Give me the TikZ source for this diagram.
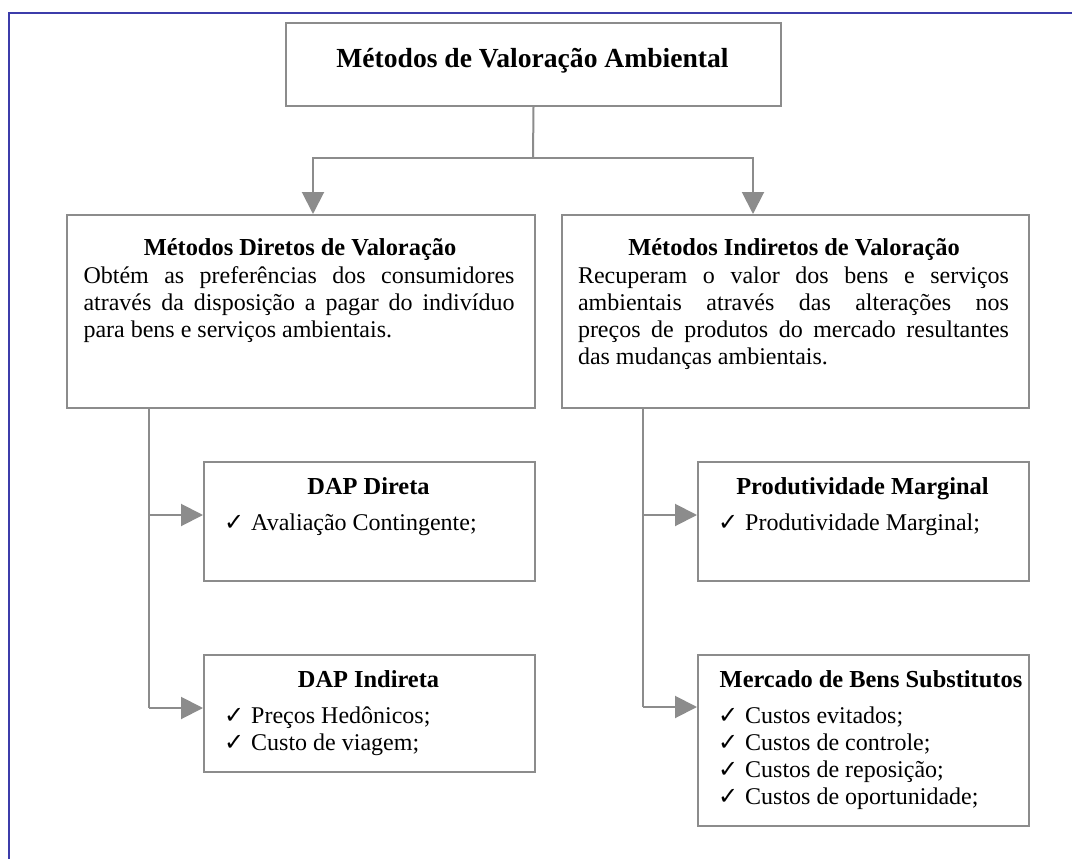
\documentclass[tikz,border=0pt]{standalone}
\usepackage{fontspec}
\setmainfont{Liberation Serif}
\newfontfamily\chkfont{DejaVu Sans}
\usetikzlibrary{arrows.meta}
\definecolor{frameblue}{HTML}{3C3CAA}
\definecolor{lg}{HTML}{8C8C8C}
\newcommand{\ck}{\makebox[27pt][l]{\chkfont\fontsize{24}{24}\selectfont ✓}}
\begin{document}
\begin{tikzpicture}[x=1pt,y=-1pt,
  box/.style={draw=lg, line width=2pt, inner sep=0pt, anchor=north west},
  conn/.style={draw=lg, line width=2pt},
  arr/.style={draw=lg, line width=2pt, -{Triangle[length=22pt,width=22pt]}},
  ttl/.style={inner sep=0pt, anchor=base, font=\fontsize{27.6}{30}\selectfont\bfseries},
  hdr/.style={inner sep=0pt, anchor=base, font=\fontsize{24.4}{27}\selectfont\bfseries},
  body/.style={inner sep=0pt, anchor=base, font=\fontsize{24}{27}\selectfont},
  lst/.style={inner sep=0pt, anchor=base west, font=\fontsize{24}{27}\selectfont}]
\useasboundingbox (0,0) rectangle (1072,859);
\fill[white] (0,0) rectangle (1072,859);
\draw[frameblue, line width=2.5pt] (9,862) -- (9,13) -- (1075,13);

% boxes
\node[box, minimum width=495pt, minimum height=83pt] (title) at (285,22) {};
\node[box, minimum width=468pt, minimum height=193pt] (dir) at (66,214) {};
\node[box, minimum width=467pt, minimum height=193pt] (ind) at (561,214) {};
\node[box, minimum width=331pt, minimum height=119pt] (dapd) at (203,461) {};
\node[box, minimum width=331pt, minimum height=117pt] (dapi) at (203,654) {};
\node[box, minimum width=331pt, minimum height=119pt] (prod) at (697,461) {};
\node[box, minimum width=331pt, minimum height=171pt] (merc) at (697,654) {};

% texts
\node[ttl] (titletxt) at (532.5,68) {Métodos de Valoração Ambiental};

\node[hdr] (dirhdr) at (300,255) {Métodos Diretos de Valoração};
\node[body] (dirl1) at (299,283) {\makebox[431pt][s]{Obtém as preferências dos consumidores}};
\node[body] (dirl2) at (299,310) {\makebox[431pt][s]{através da disposição a pagar do indivíduo}};
\node[body] (dirl3) at (299,337) {\makebox[431pt][l]{para bens e serviços ambientais.}};

\node[hdr] (indhdr) at (794,255) {Métodos Indiretos de Valoração};
\node[body] (indl1) at (793.5,283) {\makebox[431pt][s]{Recuperam o valor dos bens e serviços}};
\node[body] (indl2) at (793.5,310) {\makebox[431pt][s]{ambientais através das alterações nos}};
\node[body] (indl3) at (793.5,337) {\makebox[431pt][s]{preços de produtos do mercado resultantes}};
\node[body] (indl4) at (793.5,364) {\makebox[431pt][l]{das mudanças ambientais.}};

\node[hdr] (dapdhdr) at (368.5,494) {DAP Direta};
\node[lst] (dapdl1) at (224,530) {\ck Avaliação Contingente;};

\node[hdr] (dapihdr) at (368.5,687) {DAP Indireta};
\node[lst] (dapil1) at (224,723) {\ck Preços Hedônicos;};
\node[lst] (dapil2) at (224,750) {\ck Custo de viagem;};

\node[hdr] (prodhdr) at (862.5,494) {Produtividade Marginal};
\node[lst] (prodl1) at (718,530) {\ck Produtividade Marginal;};

\node[hdr] (merchdr) at (871,687) {Mercado de Bens Substitutos};
\node[lst] (mercl1) at (718,723) {\ck Custos evitados;};
\node[lst] (mercl2) at (718,750) {\ck Custos de controle;};
\node[lst] (mercl3) at (718,777) {\ck Custos de reposição;};
\node[lst] (mercl4) at (718,804) {\ck Custos de oportunidade;};

% connectors
\coordinate (j) at (533,158);
\coordinate (tL) at (313,214);
\coordinate (tR) at (753,214);
\draw[conn] (title.south) -- (j);
\draw[arr] (j) -| (tL);
\draw[arr] (j) -| (tR);

\coordinate (la) at (149,407);
\coordinate (l1) at (149,515);
\coordinate (l2) at (149,708);
\draw[conn] (la) -- (l2);
\draw[arr] (l1) -- (dapd.west |- l1);
\draw[arr] (l2) -- (dapi.west |- l2);

\coordinate (ra) at (643,407);
\coordinate (r1) at (643,515);
\coordinate (r2) at (643,707);
\draw[conn] (ra) -- (r2);
\draw[arr] (r1) -- (prod.west |- r1);
\draw[arr] (r2) -- (merc.west |- r2);
\end{tikzpicture}
\end{document}
